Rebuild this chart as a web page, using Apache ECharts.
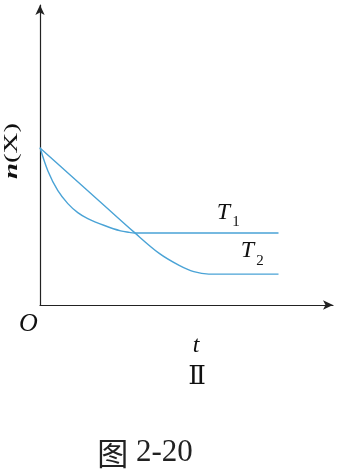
<!DOCTYPE html>
<html>
<head>
<meta charset="utf-8">
<script src="https://cdn.jsdelivr.net/npm/echarts@6/dist/echarts.min.js"></script>
<style>
html,body{margin:0;padding:0;background:#fff;}
#chart{width:340px;height:472px;}
</style>
</head>
<body>
<div id="chart"></div>
<script>
// Curve T1 (faster, reaches equilibrium earlier, higher n(X))
var t1X = [0, 0.27, 0.61, 0.95, 1.29, 1.63, 2.20, 2.75, 3.05, 3.22, 8.14];
var t1Y = [5.25, 4.47, 3.81, 3.38, 3.08, 2.88, 2.65, 2.47, 2.42, 2.40, 2.40];
// Curve T2 (slower, reaches equilibrium later, lower n(X))
var t2X = [0, 1.02, 2.03, 3.22, 4.07, 4.75, 5.25, 5.76, 8.14];
var t2Y = [5.23, 4.34, 3.46, 2.42, 1.72, 1.32, 1.11, 1.03, 1.03];
var seriesNames = ['T1', 'T2'];

function pairs(xs, ys) { return xs.map(function (x, i) { return [x, ys[i]]; }); }

var lineColor = '#4aa3d6';
var serif = '"Liberation Serif", "DejaVu Serif", serif';

var chart = echarts.init(document.getElementById('chart'), null, {renderer: 'canvas'});
chart.setOption({
  backgroundColor: '#fff',
  animation: false,
  grid: {left: 40, right: 7, top: 5, bottom: 167},
  xAxis: {
    type: 'value', min: 0, max: 10,
    axisLine: {show: true, symbol: ['none', 'arrow'], symbolSize: [7, 10], lineStyle: {color: '#222', width: 1.2}},
    axisTick: {show: false}, axisLabel: {show: false}, splitLine: {show: false}
  },
  yAxis: {
    type: 'value', min: 0, max: 10,
    axisLine: {show: true, symbol: ['none', 'arrow'], symbolSize: [7, 10], lineStyle: {color: '#222', width: 1.2}},
    axisTick: {show: false}, axisLabel: {show: false}, splitLine: {show: false}
  },
  series: [
    {name: seriesNames[0], type: 'line', data: pairs(t1X, t1Y), smooth: 0.35, showSymbol: false,
     lineStyle: {color: lineColor, width: 1.4}},
    {name: seriesNames[1], type: 'line', data: pairs(t2X, t2Y), smooth: 0.35, showSymbol: false,
     lineStyle: {color: lineColor, width: 1.4}}
  ],
  graphic: [
    {type: 'text', x: 12.5, y: 151, rotation: Math.PI / 2, scaleX: 1.6,
     style: {text: '{i|n}(X)', font: '18px ' + serif, fill: '#111', align: 'center', verticalAlign: 'middle',
       rich: {i: {fontStyle: 'italic', fontWeight: 'bold', fontFamily: serif, fontSize: 18, fill: '#111'}}}},
    {type: 'text', x: 223.5, y: 213, style: {text: 'T', font: 'italic 24px ' + serif, fill: '#111', align: 'center', verticalAlign: 'middle'}},
    {type: 'text', x: 236, y: 222, style: {text: '1', font: '15px ' + serif, fill: '#111', align: 'center', verticalAlign: 'middle'}},
    {type: 'text', x: 247.5, y: 251, style: {text: 'T', font: 'italic 24px ' + serif, fill: '#111', align: 'center', verticalAlign: 'middle'}},
    {type: 'text', x: 260, y: 261, style: {text: '2', font: '15px ' + serif, fill: '#111', align: 'center', verticalAlign: 'middle'}},
    {type: 'text', x: 28.5, y: 324, style: {text: 'O', font: 'italic 26px ' + serif, fill: '#111', align: 'center', verticalAlign: 'middle'}},
    {type: 'text', x: 196, y: 346, style: {text: 't', font: 'italic 24px ' + serif, fill: '#111', align: 'center', verticalAlign: 'middle'}},
    {type: 'text', x: 197, y: 377, style: {text: 'Ⅱ', font: '26px ' + serif, fill: '#111', align: 'center', verticalAlign: 'middle'}},
    {type: 'text', x: 145, y: 453, style: {text: '{c|图} 2-20', font: '31px ' + serif, fill: '#222', align: 'center', verticalAlign: 'middle',
       rich: {c: {fontFamily: '"Noto Sans CJK SC"', fontSize: 31, fill: '#222'}}}}
  ]
});
</script>
</body>
</html>
